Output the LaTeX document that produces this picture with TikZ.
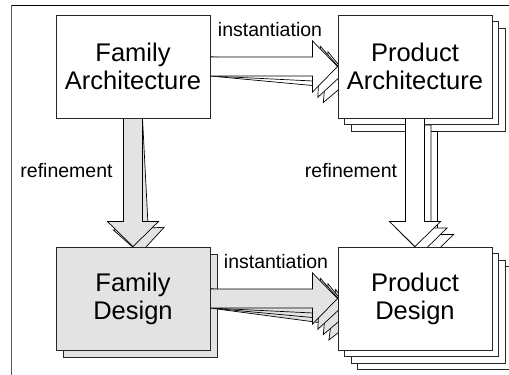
\documentclass[tikz,border=0pt]{standalone}
\usepackage{fontspec}
\setmainfont{Liberation Sans}
\usetikzlibrary{calc}

\definecolor{designgray}{gray}{0.89}
\newcommand{\boxfont}{\fontsize{25.5}{28}\selectfont}
\newcommand{\lblfont}{\fontsize{19.5}{22}\selectfont}

\pgfdeclarelayer{back}
\pgfdeclarelayer{mid}
\pgfsetlayers{back,mid,main}

\tikzset{
  blockbox/.style={draw=black!85, line width=0.9pt, fill=white, minimum width=154pt,
    minimum height=103pt, inner sep=0pt, align=center, font=\boxfont},
  copybox/.style={blockbox},
  arrowshape/.style={draw=black, line width=0.7pt, fill=white, line join=miter},
  lbl/.style={font=\lblfont, inner sep=0pt}
}

% big hollow arrow from #2 to #3
\newcommand{\blockarrow}[3][]{%
  \path let \p1=(#2), \p2=(#3) in \pgfextra{%
    \pgfmathsetmacro\arrlen{veclen(\x2-\x1,\y2-\y1)}%
    \pgfmathsetmacro\arrang{atan2(\y2-\y1,\x2-\x1)}%
    \global\let\arrlen\arrlen \global\let\arrang\arrang};
  \begin{scope}[shift={(#2)}, rotate=\arrang]
    \draw[arrowshape, #1] (0pt,-9.5pt) -- (\arrlen pt-25pt,-9.5pt) -- (\arrlen pt-25pt,-25.5pt)
      -- (\arrlen pt,0pt) -- (\arrlen pt-25pt,25.5pt) -- (\arrlen pt-25pt,9.5pt) -- (0pt,9.5pt) -- cycle;
  \end{scope}}

\begin{document}
\begin{tikzpicture}[x=1pt, y=-1pt]
	\useasboundingbox (0,0) rectangle (509,375);
	% FRAME
	\draw[line width=0.8pt] (11,5) -- (509,5);
	\draw[line width=0.8pt, black!65] (11,5) -- (11,375);

	% BLOCKS
	\node[blockbox] (famarch) at (133,66.5) {Family\\Architecture};
	\node[blockbox] (prodarch) at (415,66.5) {Product\\Architecture};
	\node[blockbox, fill=designgray] (famdes) at (133,298.5) {Family\\Design};
	\node[blockbox] (proddes) at (415,298.5) {Product\\Design};

	% COPIES
	\begin{pgfonlayer}{back}
		\node[copybox] (prodarch2) at ($(prodarch)+(13,13)$) {};
		\node[copybox] (prodarch1) at ($(prodarch)+(6.5,6.5)$) {};
		\node[copybox, fill=designgray] (famdes1) at ($(famdes)+(7,7)$) {};
		\foreach \k in {3,2,1} {\node[copybox] (proddes\k) at ($(proddes)+(6.5*\k,6.5*\k)$) {};}
	\end{pgfonlayer}

	% ARROWS
	\begin{pgfonlayer}{mid}
		\foreach \k in {2,1} {\blockarrow{famarch.east}{prodarch\k.west}}
		\blockarrow{famarch.east}{prodarch.west}
		\blockarrow[fill=designgray]{famarch.south}{famdes1.north}
		\blockarrow[fill=designgray]{famarch.south}{famdes.north}
		\foreach \k in {2,1} {\blockarrow{prodarch\k.south}{proddes\k.north}}
		\blockarrow{prodarch.south}{proddes.north}
		\foreach \k in {3,2,1} {\blockarrow[fill=designgray]{famdes.east}{proddes\k.west}}
		\blockarrow[fill=designgray]{famdes.east}{proddes.west}
	\end{pgfonlayer}

	% LABELS
	\node[lbl, anchor=base] (instup) at (270,36) {instantiation};
	\node[lbl, anchor=base] (instlow) at (276,268) {instantiation};
	\node[lbl, anchor=base] (refleft) at (66.5,177) {refinement};
	\node[lbl, anchor=base] (refright) at (351,177) {refinement};
\end{tikzpicture}
\end{document}
